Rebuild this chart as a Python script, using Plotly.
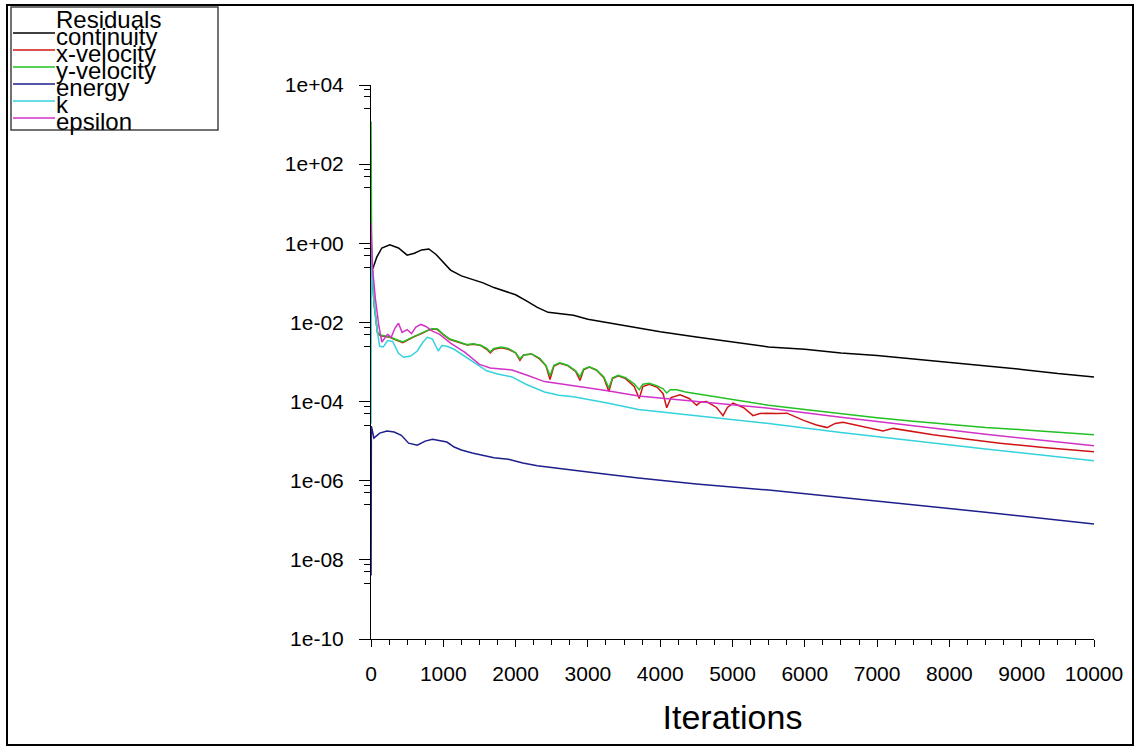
import plotly.graph_objects as go

# ---------------- data ----------------
continuity_it = [5, 30, 80, 150, 260, 380, 500, 600, 700, 800, 900, 1000, 1100, 1250, 1400, 1550,
                 1700, 1850, 2000, 2150, 2300, 2450, 2600, 2800, 3000, 3250, 3500, 3750, 4000,
                 4500, 5000, 5500, 6000, 6500, 7000, 7500, 8000, 8500, 9000, 9500, 10000]
continuity_val = [0.20, 0.24, 0.45, 0.76, 0.91, 0.76, 0.50, 0.56, 0.68, 0.72, 0.52, 0.32, 0.21, 0.15,
                  0.12, 0.10, 0.076, 0.063, 0.050, 0.035, 0.024, 0.018, 0.0166, 0.0151, 0.012,
                  0.010, 0.0083, 0.0071, 0.0058, 0.0043, 0.0032, 0.0024, 0.0021, 0.0017, 0.00145,
                  0.0012, 0.00098, 0.00079, 0.00065, 0.00051, 0.00042]

xvel_it = [1, 10, 40, 90, 130, 200, 260, 330, 440, 520, 600, 700, 780, 850, 920, 1000, 1090, 1200,
           1330, 1420, 1520, 1600, 1650, 1700, 1800, 1900, 2000, 2060, 2110, 2220, 2330, 2420,
           2476, 2530, 2610, 2720, 2830, 2891, 2940, 3020, 3120, 3220, 3290, 3340, 3420, 3520,
           3640, 3710, 3760, 3850, 3960, 4040, 4090, 4150, 4274, 4400, 4504, 4560, 4640, 4780,
           4869, 4930, 5007, 5150, 5284, 5380, 5480, 5620, 5754, 5975, 6150, 6307, 6420, 6528,
           6805, 7082, 7220, 7500, 7773, 8200, 8700, 9300, 10000]
xvel_val = [2.0, 0.32, 0.032, 0.0054, 0.0046, 0.0044, 0.0042, 0.0037, 0.0031, 0.0037, 0.0044,
            0.0052, 0.0062, 0.0068, 0.0066, 0.0049, 0.0037, 0.0032, 0.0027, 0.0028, 0.0026,
            0.0021, 0.0017, 0.0021, 0.0023, 0.0021, 0.0017, 0.0011, 0.0015, 0.0016, 0.0012,
            0.00080, 0.00036, 0.00079, 0.00093, 0.00081, 0.00058, 0.00034, 0.00063, 0.00074,
            0.00062, 0.00040, 0.00018, 0.00038, 0.00045, 0.00038, 0.00024, 0.00012, 0.00024,
            0.000275, 0.00023, 0.000158, 7.0e-5, 0.000126, 0.000148, 0.00012, 8.1e-5, 9.8e-5,
            1.0e-4, 7.1e-5, 4.4e-5, 7.1e-5, 9.1e-5, 7.1e-5, 4.4e-5, 5.0e-5, 5.1e-5, 5.0e-5,
            5.1e-5, 3.4e-5, 2.6e-5, 2.2e-5, 2.8e-5, 3.0e-5, 2.3e-5, 1.8e-5, 2.1e-5, 1.74e-5,
            1.45e-5, 1.15e-5, 8.9e-6, 6.9e-6, 5.4e-6]

yvel_it = [1, 8, 40, 90, 130, 200, 260, 330, 440, 520, 600, 700, 780, 850, 920, 1000, 1090, 1200,
           1330, 1420, 1520, 1600, 1650, 1700, 1800, 1900, 2000, 2060, 2110, 2220, 2330, 2420,
           2476, 2530, 2610, 2720, 2830, 2891, 2940, 3020, 3120, 3220, 3290, 3340, 3420, 3520,
           3640, 3710, 3760, 3850, 3960, 4040, 4090, 4140, 4230, 4350, 4500, 5000, 5500, 6000,
           6500, 7000, 7500, 8000, 8500, 9000, 9500, 10000]
yvel_val = [1200, 1.0, 0.032, 0.0056, 0.0048, 0.0045, 0.0043, 0.0038, 0.0032, 0.0038, 0.0045,
            0.0054, 0.0063, 0.0069, 0.0068, 0.0050, 0.0038, 0.0033, 0.00275, 0.0029, 0.0026,
            0.0022, 0.0018, 0.0022, 0.0024, 0.0022, 0.0017, 0.0012, 0.0015, 0.0016, 0.00126,
            0.00082, 0.00045, 0.00083, 0.00095, 0.00083, 0.00060, 0.00042, 0.00066, 0.00076,
            0.00063, 0.00042, 0.00022, 0.00040, 0.00046, 0.00040, 0.00028, 0.00020, 0.000275,
            0.00029, 0.00025, 0.00021, 0.000165, 0.00020, 0.00020, 0.000174, 0.000158, 0.000112,
            8.1e-5, 6.3e-5, 4.9e-5, 3.9e-5, 3.2e-5, 2.7e-5, 2.2e-5, 1.95e-5, 1.66e-5, 1.45e-5]

energy_it = [1, 5, 40, 120, 220, 320, 420, 520, 640, 750, 850, 950, 1050, 1150, 1250, 1400, 1550,
             1700, 1900, 2100, 2300, 2550, 2800, 3200, 3700, 4500, 5500, 6500, 7500, 8500, 10000]
energy_val = [4.0e-9, 2.4e-5, 1.2e-5, 1.6e-5, 1.8e-5, 1.7e-5, 1.4e-5, 8.9e-6, 7.9e-6, 1.0e-5,
              1.12e-5, 1.05e-5, 9.5e-6, 7.1e-6, 6.0e-6, 5.0e-6, 4.4e-6, 3.8e-6, 3.5e-6, 2.8e-6,
              2.4e-6, 2.1e-6, 1.8e-6, 1.5e-6, 1.17e-6, 8.3e-7, 5.8e-7, 3.8e-7, 2.45e-7, 1.6e-7,
              8.1e-8]

k_it = [1, 4, 30, 70, 120, 170, 230, 300, 380, 450, 550, 640, 720, 780, 850, 930, 980, 1050, 1150,
        1300, 1450, 1600, 1750, 1950, 2150, 2400, 2600, 2800, 3250, 3700, 4500, 5500, 6500, 7500,
        8500, 10000]
k_val = [2.8e-5, 0.60, 0.063, 0.010, 0.0025, 0.0024, 0.0035, 0.0033, 0.00166, 0.00132, 0.00141,
         0.0019, 0.0032, 0.0042, 0.0038, 0.0019, 0.0026, 0.0025, 0.0021, 0.00138, 0.00089,
         0.00060, 0.00050, 0.00042, 0.00027, 0.000174, 0.000145, 0.000132, 9.3e-5, 6.3e-5,
         4.4e-5, 2.8e-5, 1.66e-5, 1.02e-5, 6.3e-6, 3.2e-6]

eps_it = [1, 20, 60, 110, 150, 190, 230, 280, 330, 380, 430, 500, 560, 620, 690, 760, 850, 950,
          1100, 1300, 1500, 1650, 1950, 2150, 2400, 2800, 3250, 3700, 4500, 5500, 6500, 7500,
          8500, 10000]
eps_val = [3.2, 0.25, 0.04, 0.0079, 0.0032, 0.0040, 0.0050, 0.0042, 0.0071, 0.0095, 0.0056,
           0.0066, 0.0052, 0.0076, 0.0089, 0.0079, 0.0060, 0.0050, 0.0030, 0.00174, 0.00087,
           0.00071, 0.00063, 0.00047, 0.00032, 0.00025, 0.00019, 0.000138, 0.00010, 6.8e-5,
           4.0e-5, 2.4e-5, 1.5e-5, 7.6e-6]

series_names = ["continuity", "x-velocity", "y-velocity", "energy", "k", "epsilon"]
series_colors = ["#000000", "#d01414", "#22c022", "#1e1e8c", "#34d2dc", "#d232c8"]

x_tickvals = [0, 1000, 2000, 3000, 4000, 5000, 6000, 7000, 8000, 9000, 10000]
x_ticktext = ["0", "1000", "2000", "3000", "4000", "5000", "6000", "7000", "8000", "9000", "10000"]
y_tickvals = [1e-10, 1e-8, 1e-6, 1e-4, 1e-2, 1e0, 1e2, 1e4]
y_ticktext = ["1e-10", "1e-08", "1e-06", "1e-04", "1e-02", "1e+00", "1e+02", "1e+04"]

# ---------------- figure ----------------
W, H = 1137, 749
L, R, T, B = 371, 43, 85, 110
PW, PH = W - L - R, H - T - B
FONT = "Liberation Sans, Arial, sans-serif"


def px(xp):
    return (xp - L) / PW


def py(yp):
    return (H - B - yp) / PH


fig = go.Figure()
data = [(continuity_it, continuity_val), (xvel_it, xvel_val), (yvel_it, yvel_val),
        (energy_it, energy_val), (k_it, k_val), (eps_it, eps_val)]
for (xs, ys), name, col in zip(data, series_names, series_colors):
    fig.add_trace(go.Scatter(x=xs, y=ys, mode="lines", name=name,
                             line=dict(color=col, width=1.5), showlegend=False))

y_minor = [f * v for v in y_tickvals[1:] for f in (0.75, 0.5, 0.25)]

fig.update_layout(
    width=W, height=H, autosize=False,
    margin=dict(l=L, r=R, t=T, b=B, pad=0),
    paper_bgcolor="white", plot_bgcolor="white",
    font=dict(family=FONT, color="black"),
    xaxis=dict(range=[0, 10000], tickvals=x_tickvals, ticktext=x_ticktext,
               showgrid=False, zeroline=False, layer="below traces",
               showline=True, linecolor="black", linewidth=1,
               ticks="outside", ticklen=7, tickwidth=1, tickcolor="black",
               tickfont=dict(size=21, family=FONT, color="black"), ticklabelstandoff=9,
               minor=dict(dtick=250, tick0=0, ticks="outside", ticklen=5, tickwidth=1,
                          tickcolor="black", showgrid=False),
               title=dict(text="Iterations", font=dict(size=34, family=FONT, color="black"),
                          standoff=20)),
    yaxis=dict(type="log", range=[-10, 4], tickvals=y_tickvals, ticktext=y_ticktext,
               showgrid=False, zeroline=False, layer="below traces",
               showline=True, linecolor="black", linewidth=1,
               ticks="outside", ticklen=11, tickwidth=1, tickcolor="black",
               tickfont=dict(size=21, family=FONT, color="black"), ticklabelstandoff=11,
               minor=dict(tickvals=y_minor, ticks="outside", ticklen=6, tickwidth=1,
                          tickcolor="black", showgrid=False)),
)

shapes = []
# outer frame
shapes.append(dict(type="rect", xref="paper", yref="paper", x0=px(7), x1=px(1133), y0=py(5), y1=py(745),
                   line=dict(color="black", width=2), layer="above"))
# legend box
shapes.append(dict(type="rect", xref="paper", yref="paper", x0=px(11), x1=px(218), y0=py(7), y1=py(130),
                   line=dict(color="#444444", width=1.5), fillcolor="rgba(0,0,0,0)", layer="above"))

annotations = []
annotations.append(dict(text="Residuals", xref="paper", yref="paper", x=px(54), y=py(19),
                        xanchor="left", yanchor="middle", showarrow=False,
                        font=dict(size=24, family=FONT, color="black")))
for i, (name, col) in enumerate(zip(series_names, series_colors)):
    base = 44 + 17 * i
    shapes.append(dict(type="line", xref="paper", yref="paper", x0=px(13), x1=px(55),
                       y0=py(base - 11), y1=py(base - 11), line=dict(color=col, width=1.5)))
    annotations.append(dict(text=name, xref="paper", yref="paper", x=px(54), y=py(base - 8),
                            xanchor="left", yanchor="middle", showarrow=False,
                            font=dict(size=24, family=FONT, color="black")))

fig.update_layout(shapes=shapes, annotations=annotations)

fig.write_html("out.html", config={"displayModeBar": False},
               post_script="document.body.style.margin='0px';")
